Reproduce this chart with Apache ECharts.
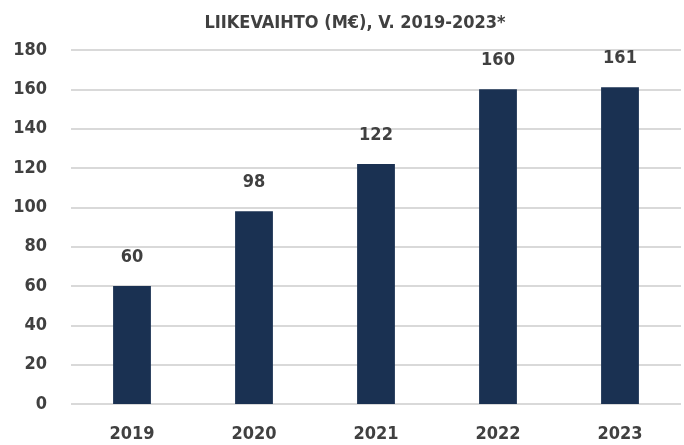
<!DOCTYPE html>
<html>
<head>
<meta charset="utf-8">
<script src="https://cdn.jsdelivr.net/npm/echarts@6/dist/echarts.min.js"></script>
<style>
  html, body { margin: 0; padding: 0; background: #fff; }
  #main { width: 684px; height: 445px; }
</style>
</head>
<body>
<div id="main"></div>
<script>
var years = ['2019', '2020', '2021', '2022', '2023'];
var revenue = [60, 98, 122, 160, 161];
var titleText = 'LIIKEVAIHTO (M€), V. 2019-2023*';

var font = '"Liberation Sans Narrow", "DejaVu Sans Condensed", sans-serif';
var myChart = echarts.init(document.getElementById('main'));
var option = {
    animation: false,
    title: {
        text: titleText,
        left: 350,
        textAlign: 'center',
        top: 9,
        textStyle: {
            fontFamily: font,
            fontSize: 18,
            fontWeight: 'bold',
            color: '#404040'
        }
    },
    grid: {
        left: 71,
        right: 3,
        top: 50,
        bottom: 41
    },
    xAxis: {
        type: 'category',
        data: years,
        axisLine: { show: false },
        axisTick: { show: false },
        axisLabel: {
            margin: 21,
            fontFamily: font,
            fontSize: 18,
            fontWeight: 'bold',
            color: '#404040'
        }
    },
    yAxis: {
        type: 'value',
        min: 0,
        max: 180,
        interval: 20,
        axisLabel: {
            margin: 24,
            fontFamily: font,
            fontSize: 18,
            fontWeight: 'bold',
            color: '#404040'
        },
        splitLine: {
            lineStyle: { color: '#d9d9d9', width: 2 }
        }
    },
    series: [
        {
            type: 'bar',
            data: revenue,
            barWidth: '31%',
            itemStyle: { color: '#1a3152' },
            label: {
                show: true,
                position: 'top',
                distance: 20,
                fontFamily: font,
                fontSize: 18,
                fontWeight: 'bold',
                color: '#404040'
            }
        }
    ]
};
myChart.setOption(option);
</script>
</body>
</html>
